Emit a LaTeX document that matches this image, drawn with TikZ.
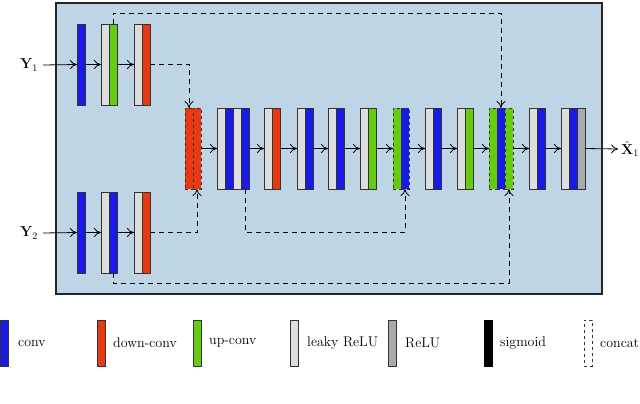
\documentclass[tikz,border=0pt]{standalone}
\usetikzlibrary{arrows.meta}
\definecolor{cB}{HTML}{1A1AE6}
\definecolor{cR}{HTML}{E83A12}
\definecolor{cG}{HTML}{66CC12}
\definecolor{cL}{HTML}{DDDDDD}
\definecolor{cD}{HTML}{AAAAAA}
\definecolor{cK}{HTML}{000000}
\definecolor{bg}{HTML}{BDD5E5}
\begin{document}
\begin{tikzpicture}[x=1pt,y=-1pt,
  strip/.style={draw=black!80,line width=0.9pt,minimum width=8pt,minimum height=81pt,inner sep=0pt,outer sep=0pt,anchor=north west},
  lg/.style={strip,minimum height=46pt},
  arr/.style={-{To[length=7pt,width=9pt]},line width=0.8pt},
  dsh/.style={dashed,dash pattern=on 5pt off 4pt,line width=0.8pt},
  lab/.style={font=\fontsize{14}{16}\selectfont,inner sep=0pt}]
\newcommand\blk[5]{\foreach \c [count=\i] in {#4} {\node[strip,fill=\c,#5] (#1-\i) at ({#2+8*\i-8},#3) {};}}
\useasboundingbox (0,0) rectangle (640,404);
\node[draw=black!85,line width=2pt,fill=bg,minimum width=546pt,minimum height=291pt,anchor=north west,inner sep=0pt] (box) at (55,2) {};
% top row
\blk{T1}{77}{24}{cB}{}
\blk{T2}{101}{24}{cL,cG}{}
\blk{T3}{134}{24}{cL,cR}{}
% bottom row
\blk{B1}{77}{192}{cB}{}
\blk{B2}{101}{192}{cL,cB}{}
\blk{B3}{134}{192}{cL,cR}{}
% middle
\blk{M1}{185}{108}{cR,cR}{dashed}
\blk{M2}{217}{108}{cL,cB,cL,cB}{}
\blk{M3}{264}{108}{cL,cR}{}
\blk{M4}{297}{108}{cL,cB}{}
\blk{M5}{328}{108}{cL,cB}{}
\blk{M6}{360}{108}{cL,cG}{}
\blk{M7}{393}{108}{cG,cB}{dashed}
\blk{M8}{425}{108}{cL,cB}{}
\blk{M9}{457}{108}{cL,cG}{}
\blk{M10}{489}{108}{cG,cB,cG}{dashed}
\blk{M11}{529}{108}{cL,cB}{}
\blk{M12}{561}{108}{cL,cB,cD}{}
% labels
\node[lab] (Y1) at (29,65) {$\mathbf{Y}_1$};
\node[lab] (Y2) at (29,233) {$\mathbf{Y}_2$};
\node[lab,anchor=west] (X1) at (621,149) {$\hat{\mathbf{X}}_1$};
% solid arrows
\draw[arr] (Y1.east) ++(5,0) -- (T1-1.west);
\draw[arr] (Y2.east) ++(5,0) -- (B1-1.west);
\draw[arr] (T1-1.east) -- (T2-1.west);
\draw[arr] (T2-2.east) -- (T3-1.west);
\draw[arr] (B1-1.east) -- (B2-1.west);
\draw[arr] (B2-2.east) -- (B3-1.west);
\draw[arr] (M1-2.east) -- (M2-1.west);
\draw[arr] (M2-4.east) -- (M3-1.west);
\draw[arr] (M3-2.east) -- (M4-1.west);
\draw[arr] (M4-2.east) -- (M5-1.west);
\draw[arr] (M5-2.east) -- (M6-1.west);
\draw[arr] (M6-2.east) -- (M7-1.west);
\draw[arr] (M7-2.east) -- (M8-1.west);
\draw[arr] (M8-2.east) -- (M9-1.west);
\draw[arr] (M9-2.east) -- (M10-1.west);
\draw[arr] (M10-3.east) -- (M11-1.west);
\draw[arr] (M11-2.east) -- (M12-1.west);
\draw[arr] (M12-3.east) -- ([xshift=-3pt]X1.west);
% dashed skips
\draw[dsh,arr] (T3-2.east) -| (M1-1.north);
\draw[dsh,arr] (B3-2.east) -| (M1-2.south);
\draw[dsh,arr] (T2-2.north) -- ++(0,-11) -| (M10-2.north);
\draw[dsh,arr] (B2-2.south) -- ++(0,10) -| (M10-3.south);
\draw[dsh,arr] (M2-4.south) -- ++(0,43) -| (M7-2.south);
% legend
\node[lg,fill=cB] (L1) at (0,320) {};
\node[lab,anchor=west] at (18,343) {conv};
\node[lg,fill=cR] (L2) at (97,320) {};
\node[lab,anchor=west] at (113,343) {down-conv};
\node[lg,fill=cG] (L3) at (193,320) {};
\node[lab,anchor=west] at (209,343) {up-conv};
\node[lg,fill=cL] (L4) at (290,320) {};
\node[lab,anchor=west] at (307,343) {leaky ReLU};
\node[lg,fill=cD] (L5) at (388,320) {};
\node[lab,anchor=west] at (405,343) {ReLU};
\node[lg,fill=cK,draw=black] (L6) at (484,320) {};
\node[lab,anchor=west] at (500,343) {sigmoid};
\node[lg,fill=white,dashed] (L7) at (584,320) {};
\node[lab,anchor=west] at (600,343) {concat};
\end{tikzpicture}
\end{document}
